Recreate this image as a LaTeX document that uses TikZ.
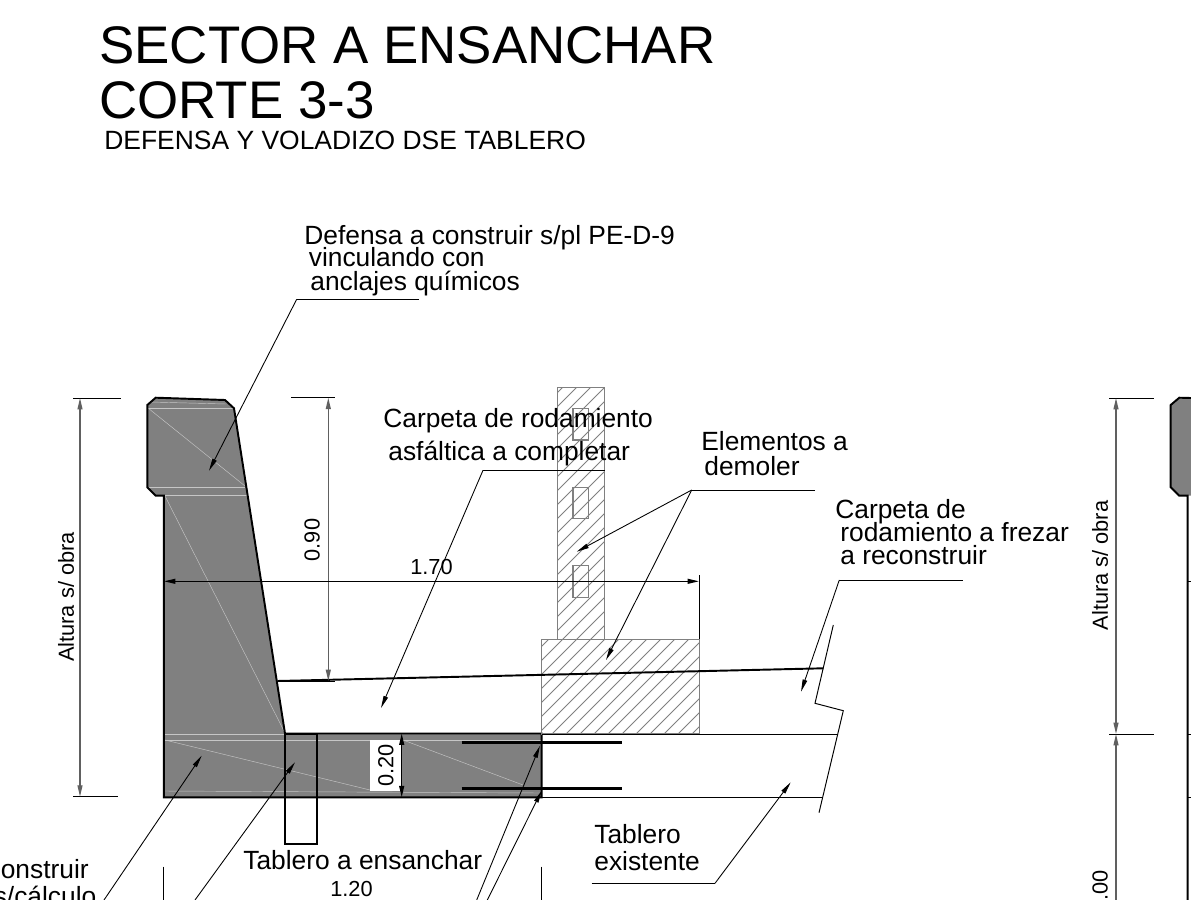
\documentclass[tikz,border=0pt]{standalone}
\usepackage{fontspec}
\setmainfont{Liberation Sans}
\usetikzlibrary{arrows.meta}
\definecolor{hormigon}{HTML}{808080}
\definecolor{cota}{HTML}{606060}
\tikzset{
    titulo/.style={anchor=base west, inner sep=0, font=\fontsize{30.1}{31}\selectfont},
    subtitulo/.style={anchor=base west, inner sep=0, font=\fontsize{15.05}{16}\selectfont},
    rotulo/.style={anchor=base west, inner sep=0, font=\fontsize{15}{16}\selectfont},
    medida/.style={inner sep=0, font=\fontsize{12.4}{13}\selectfont},
    leader/.style={line width=0.5pt, -{Stealth[length=7pt, width=2.6pt, inset=0pt]}},
    guia/.style={line width=0.55pt},
    dimline/.style={line width=0.75pt, color=cota, {Stealth[length=6.5pt, width=2.8pt, inset=0pt]}-{Stealth[length=6.5pt, width=2.8pt, inset=0pt]}},
    contorno/.style={line width=1.1pt, line join=miter},
    traza/.style={line width=0.25pt, color=white!55!gray},
    rayado/.style={line width=0.45pt, color=gray},
    demoler/.style={line width=0.7pt, color=gray}
}
\begin{document}
\begin{tikzpicture}[x=0.02cm, y=-0.02cm]
    \clip (0, 0) rectangle (1191, 900);
    \fill[white] (0, 0) rectangle (1191, 900);

    % defensa y tablero a ensanchar
    \fill[hormigon] (147.3, 405) -- (155.7, 397.7) -- (225, 400) -- (234, 408.3) -- (285, 733.5) -- (541.7, 733.5)
        -- (541.7, 797.3) -- (163.8, 797.3) -- (163.8, 495.7) -- (155.7, 495.7) -- (147.3, 487.3) -- cycle;
    \draw[traza] (148, 408) -- (234, 408);
    \draw[traza] (150, 402) -- (226, 404);
    \draw[traza] (148, 487.3) -- (245, 487.3);
    \draw[traza] (165, 495.7) -- (246.7, 495.7);
    \draw[traza] (148, 408) -- (245, 486);
    \draw[traza] (165, 496) -- (285, 733);
    \draw[traza] (163.8, 734) -- (285, 734);
    \draw[traza] (165, 740) -- (541, 740);
    \draw[traza] (165, 740) -- (370, 790);
    \draw[traza] (165, 791) -- (541, 793);
    \draw[traza] (403, 740) -- (523, 785);
    \draw[contorno] (285, 733.5) -- (234, 408.3) -- (225, 400) -- (155.7, 397.7) -- (147.3, 405) -- (147.3, 487.3)
        -- (155.7, 495.7) -- (163.8, 495.7) -- (163.8, 797.3) -- (541.7, 797.3) -- (541.7, 733.5) -- cycle;

    % pieza a la derecha
    \fill[hormigon] (1170.7, 405) -- (1179.3, 397.7) -- (1191, 398) -- (1191, 495.7) -- (1179.3, 495.7) -- (1170.7, 487.3) -- cycle;
    \draw[contorno] (1191, 398) -- (1179.3, 397.7) -- (1170.7, 405) -- (1170.7, 487.3) -- (1179.3, 495.7) -- (1187.6, 495.7) -- (1187.6, 900);
    \draw[guia] (1187.6, 581) -- (1191, 581);
    \draw[guia] (1187.6, 734) -- (1191, 734);
    \draw[guia] (1187.6, 797) -- (1191, 797);

    % elementos a demoler
    \begin{scope}
        \clip (557.3, 387.3) rectangle (604.7, 639.3) (541.7, 639.3) rectangle (699.3, 734);
        \foreach \x in {-210, -196, ..., 630} {
            \draw[rayado] (\x + 400, 760) -- (\x + 800, 360);
        }
    \end{scope}
    \draw[demoler] (557.3, 639.3) -- (557.3, 387.3) -- (604.7, 387.3) -- (604.7, 639.3);
    \draw[demoler] (541.7, 639.3) rectangle (699.3, 734);
    \draw[demoler] (573, 408.3) rectangle (588.7, 440);
    \draw[demoler] (573, 487.3) rectangle (588.7, 518.3);
    \draw[demoler] (573, 565.7) rectangle (588.7, 597.3);

    % tablero existente y corte
    \draw[line width=0.9pt] (541.7, 734.3) -- (837.7, 734.3);
    \draw[line width=0.9pt] (541.7, 797.3) -- (823.3, 797.3);
    \draw[guia] (833.3, 625) -- (815, 703.3) -- (843.3, 710.7) -- (819, 812.7);
    \draw[line width=1.1pt] (277.3, 681) -- (823.3, 668.3);

    % hierros y pieza bajo el tablero
    \draw[line width=1.1pt] (285, 734) rectangle (316.7, 844);
    \draw[line width=2pt] (461.7, 742.7) -- (621.7, 742.7);
    \draw[line width=2pt] (461.7, 788.3) -- (621.7, 788.3);

    % textos
    \node[titulo] at (99, 63.5) (tituloa) {SECTOR A ENSANCHAR};
    \node[titulo] at (99, 118) (titulob) {CORTE 3-3};
    \node[subtitulo] at (104, 149) (subtituloa) {DEFENSA Y VOLADIZO DSE TABLERO};

    \node[rotulo] at (304, 244) (defensaa) {Defensa a construir s/pl PE-D-9};
    \node[rotulo] at (308.5, 266.7) (defensab) {vinculando con};
    \node[rotulo] at (310, 290) (defensac) {anclajes químicos};
    \node[rotulo] at (383, 427) (carpetaa) {Carpeta de rodamiento};
    \node[rotulo] at (388, 460) (carpetab) {asfáltica a completar};
    \node[rotulo] at (701, 450.5) (elementosa) {Elementos a};
    \node[rotulo] at (704, 475) (elementosb) {demoler};
    \node[rotulo] at (835, 518) (frezara) {Carpeta de};
    \node[rotulo] at (840, 541.7) (frezarb) {rodamiento a frezar};
    \node[rotulo] at (840, 564) (frezarc) {a reconstruir};
    \node[rotulo] at (594, 843) (existentea) {Tablero};
    \node[rotulo] at (594, 870) (existenteb) {existente};
    \node[rotulo] at (243, 869) (ensanchar) {Tablero a ensanchar};
    \node[rotulo, anchor=base east] at (89, 878) (losaa) {construir};
    \node[rotulo, anchor=base east] at (96.7, 905) (losab) {s/cálculo};

    % lineas de referencia
    \coordinate (finde) at (419, 299.3);
    \coordinate (codode) at (296.7, 299.3);
    \coordinate (puntade) at (209, 470.7);
    \draw[guia] (finde) -- (codode);
    \draw[leader] (codode) -- (puntade);

    \coordinate (fincar) at (604.7, 470.3);
    \coordinate (codocar) at (483, 470.3);
    \coordinate (puntacar) at (381, 708);
    \draw[guia] (fincar) -- (codocar);
    \draw[leader] (codocar) -- (puntacar);

    \coordinate (finel) at (815, 490);
    \coordinate (codoel) at (691.7, 490);
    \coordinate (puntaela) at (576.7, 551.7);
    \coordinate (puntaelb) at (606, 660);
    \draw[guia] (finel) -- (codoel);
    \draw[leader] (codoel) -- (puntaela);
    \draw[leader] (codoel) -- (puntaelb);

    \coordinate (finfr) at (962.7, 580);
    \coordinate (codofr) at (839.3, 580);
    \coordinate (puntafr) at (801, 691.7);
    \draw[guia] (finfr) -- (codofr);
    \draw[leader] (codofr) -- (puntafr);

    \coordinate (finex) at (591.7, 883.3);
    \coordinate (codoex) at (715, 883.3);
    \coordinate (puntaex) at (790.7, 782.3);
    \draw[guia] (finex) -- (codoex);
    \draw[leader] (codoex) -- (puntaex);

    \coordinate (basea) at (104, 900);
    \coordinate (puntaa) at (201.7, 755.7);
    \coordinate (baseb) at (195, 900);
    \coordinate (puntab) at (295, 762.3);
    \coordinate (basec) at (476.7, 900);
    \coordinate (puntac) at (540, 745.7);
    \coordinate (based) at (487.3, 900);
    \coordinate (puntad) at (541.7, 790.7);
    \draw[leader] (basea) -- (puntaa);
    \draw[leader] (baseb) -- (puntab);
    \draw[leader] (basec) -- (puntac);
    \draw[leader] (based) -- (puntad);

    % cotas
    \draw[guia] (73.3, 398) -- (121, 398);
    \draw[guia] (73.3, 796.7) -- (117.7, 796.7);
    \draw[dimline] (80, 398) -- (80, 796.7);
    \node[medida, rotate=90] at (66, 597) (alturaa) {Altura s/ obra};

    \draw[guia] (291, 397.7) -- (335, 397.7);
    \draw[guia] (277.3, 681) -- (335, 681);
    \draw[dimline] (328.3, 397.7) -- (328.3, 681);
    \node[medida, rotate=90] at (312, 540) (cotaa) {0.90};

    \draw[guia] (699, 575) -- (699, 639.3);
    \draw[dimline, color=black] (164, 581.3) -- (699, 581.3);
    \node[medida] at (431.5, 567) (cotab) {1.70};

    \node[medida, rotate=90, fill=white, minimum width=50.7*0.02cm, minimum height=31.7*0.02cm] at (385.8, 765.3) (cotac) {0.20};
    \draw[dimline, color=black] (401.7, 733.5) -- (401.7, 797.3);

    \draw[guia] (163.8, 866.7) -- (163.8, 900);
    \draw[guia] (541.7, 866.7) -- (541.7, 900);
    \node[medida, anchor=base] at (351.5, 896) (cotad) {1.20};

    \draw[guia] (1109, 398) -- (1154, 398);
    \draw[guia] (1109, 734) -- (1154, 734);
    \draw[dimline] (1116, 398) -- (1116, 734);
    \draw[dimline] (1116, 734) -- (1116, 960);
    \node[medida, rotate=90] at (1100, 565.5) (alturab) {Altura s/ obra};
    \node[medida, rotate=90, anchor=east] at (1100, 870) (cotae) {.00};
\end{tikzpicture}
\end{document}
